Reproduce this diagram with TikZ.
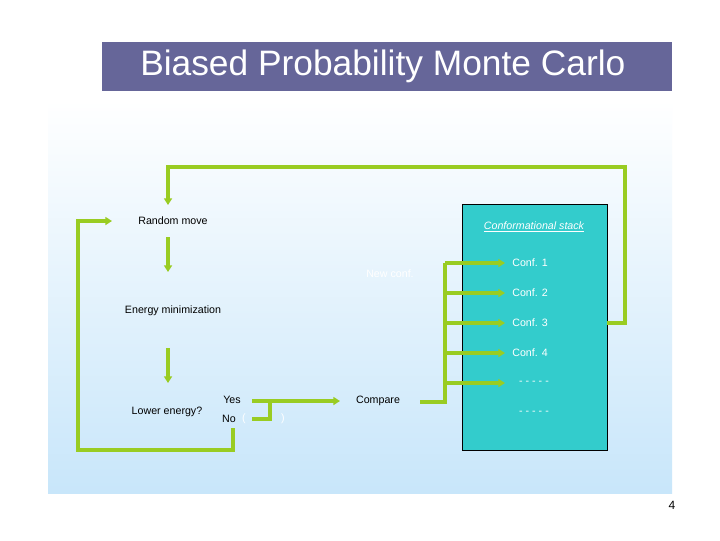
\documentclass[tikz,border=0pt]{standalone}
\usepackage{fontspec}
\setmainfont{Liberation Sans}
\usetikzlibrary{arrows.meta}
\definecolor{gr}{HTML}{99CC22}
\definecolor{titlebg}{HTML}{666699}
\definecolor{stack}{HTML}{33CCCC}
\definecolor{bgblue}{HTML}{C8E6FA}
\begin{document}
\begin{tikzpicture}[x=0.75pt,y=-0.75pt,
  conn/.style={draw=gr,line width=3pt,-{Triangle[length=5pt,width=6pt]}},
  plain/.style={draw=gr,line width=3pt},
  lbl/.style={font=\footnotesize,inner sep=1pt},
  wl/.style={font=\footnotesize,inner sep=1pt,text=white}]
\useasboundingbox (0,0) rectangle (720,540);
\fill[white] (0,0) rectangle (720,540);
\shade[top color=white,bottom color=bgblue] (48,100) rectangle (672,493);
\fill[titlebg] (102,42) rectangle (672,91);
\node[anchor=west,text=white,font=\fontsize{26.5}{30}\selectfont,inner sep=0] (title) at (140,66) {Biased Probability Monte Carlo};
\node[draw=black,fill=stack,minimum width=145*0.75pt,minimum height=246*0.75pt,inner sep=0] (box) at (534.5,327) {};
\node[wl,font=\footnotesize\itshape] (st) at (534,227) {\underline{Conformational stack}};
\node[wl] (c1) at (530,263) {Conf. 1};
\node[wl] (c2) at (530,293) {Conf. 2};
\node[wl] (c3) at (530,323) {Conf. 3};
\node[wl] (c4) at (530,353) {Conf. 4};
\node[wl] (c5) at (534,383) {- - - - -};
\node[wl] (c6) at (534,413) {- - - - -};
\node[wl] (nc) at (390,274) {New conf.};
\node[lbl] (rm) at (173,221) {Random move};
\node[lbl] (em) at (173,311) {Energy minimization};
\node[lbl] (le) at (167,412) {Lower energy?};
\node[lbl] (yes) at (232,400) {Yes};
\node[lbl] (no) at (229,419) {No};
\node[lbl,text=white] (p1) at (244,419) {(};
\node[lbl,text=white] (p2) at (283,419) {)};
\node[lbl] (cmp) at (378,401) {Compare};
\node[font=\small] (pg) at (672,505) {4};
\coordinate (a1) at (168,237); \coordinate (a2) at (168,272);
\coordinate (b1) at (168,348); \coordinate (b2) at (168,383);
\draw[conn] (a1) -- (a2);
\draw[conn] (b1) -- (b2);
\draw[conn] (box.east |- 0,323) -- (625,323) -- (625,167) -- (168,167) -- (168,205);
\draw[conn] (233,428) -- (233,450) -- (78,450) -- (78,221) -- (112,221);
\draw[conn] (252,401) -- (340,401);
\draw[plain] (252,419) -- (270,419) -- (270,401);
\draw[plain] (420,402) -- (445,402) -- (445,263);
\foreach \y in {263,293,323,353,383} \draw[conn] (445,\y) -- (505,\y);
\end{tikzpicture}
\end{document}
